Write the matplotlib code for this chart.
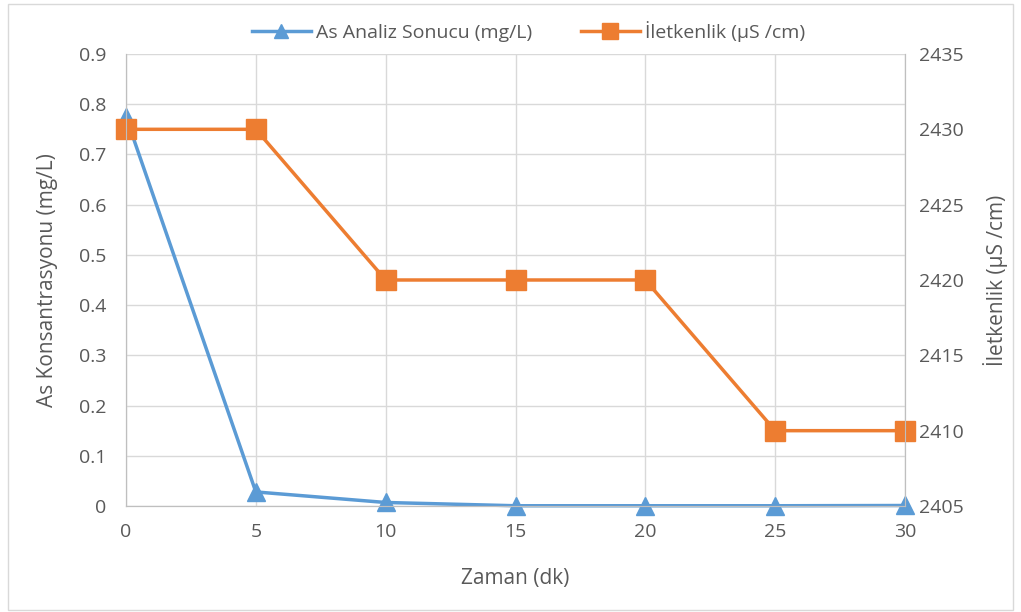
import matplotlib
matplotlib.use("Agg")
import matplotlib.pyplot as plt
from matplotlib.patches import Rectangle

plt.rcParams['font.family'] = ['Open Sans', 'DejaVu Sans']

zaman = [0, 5, 10, 15, 20, 25, 30]
as_sonuc = [0.775, 0.028, 0.007, 0.0005, 0.0005, 0.0005, 0.001]
iletkenlik = [2430, 2430, 2420, 2420, 2420, 2410, 2410]

blue = '#5B9BD5'
orange = '#ED7D31'
text_c = '#595959'
grid_c = '#D9D9D9'

fig = plt.figure(figsize=(10.21, 6.12), dpi=100)
fig.patches.append(Rectangle((0.008, 0.004), 0.984, 0.99, transform=fig.transFigure,
                             fill=False, edgecolor='#D9D9D9', linewidth=1))
ax = fig.add_axes([0.1234, 0.1732, 0.763, 0.7386])
ax2 = ax.twinx()

ax.plot(zaman, as_sonuc, color=blue, lw=2.5, marker='^', ms=13, clip_on=False,
        label='As Analiz Sonucu (mg/L)')
ax2.plot(zaman, iletkenlik, color=orange, lw=2.5, marker='s', ms=15, clip_on=False,
         label='İletkenlik (µS /cm)')

ax.set_xlim(0, 30)
ax.set_ylim(0, 0.9)
ax2.set_ylim(2405, 2435)
ax.set_xticks(zaman)
ax.set_yticks([i / 10 for i in range(10)])
ax.set_yticklabels(['0'] + ['%.1f' % (i / 10) for i in range(1, 10)])
ax2.set_yticks(range(2405, 2436, 5))

ax.grid(True, color=grid_c, lw=1)
ax.set_axisbelow(True)
for a in (ax, ax2):
    a.spines['top'].set_visible(False)
    for s in ('left', 'right', 'bottom'):
        a.spines[s].set_color('#BFBFBF')
    a.tick_params(length=0, labelsize=14, colors=text_c)
ax.tick_params(axis='x', pad=12)
ax.tick_params(axis='y', pad=14)
ax2.tick_params(axis='y', pad=10)

ax.set_xlabel('Zaman (dk)', fontsize=15, color=text_c, labelpad=20)
ax.set_ylabel('As Konsantrasyonu (mg/L)', fontsize=15, color=text_c, labelpad=15)
ax2.set_ylabel('İletkenlik (µS /cm)', fontsize=15, color=text_c, labelpad=14)

h1, l1 = ax.get_legend_handles_labels()
h2, l2 = ax2.get_legend_handles_labels()
fig.legend(h1 + h2, l1 + l2, loc='center', bbox_to_anchor=(0.518, 0.948), ncol=2,
           frameon=False, fontsize=14, labelcolor=text_c, handlelength=3,
           handletextpad=0.3, columnspacing=2.5, markerscale=0.75)

fig.savefig('out.png', dpi=100)
